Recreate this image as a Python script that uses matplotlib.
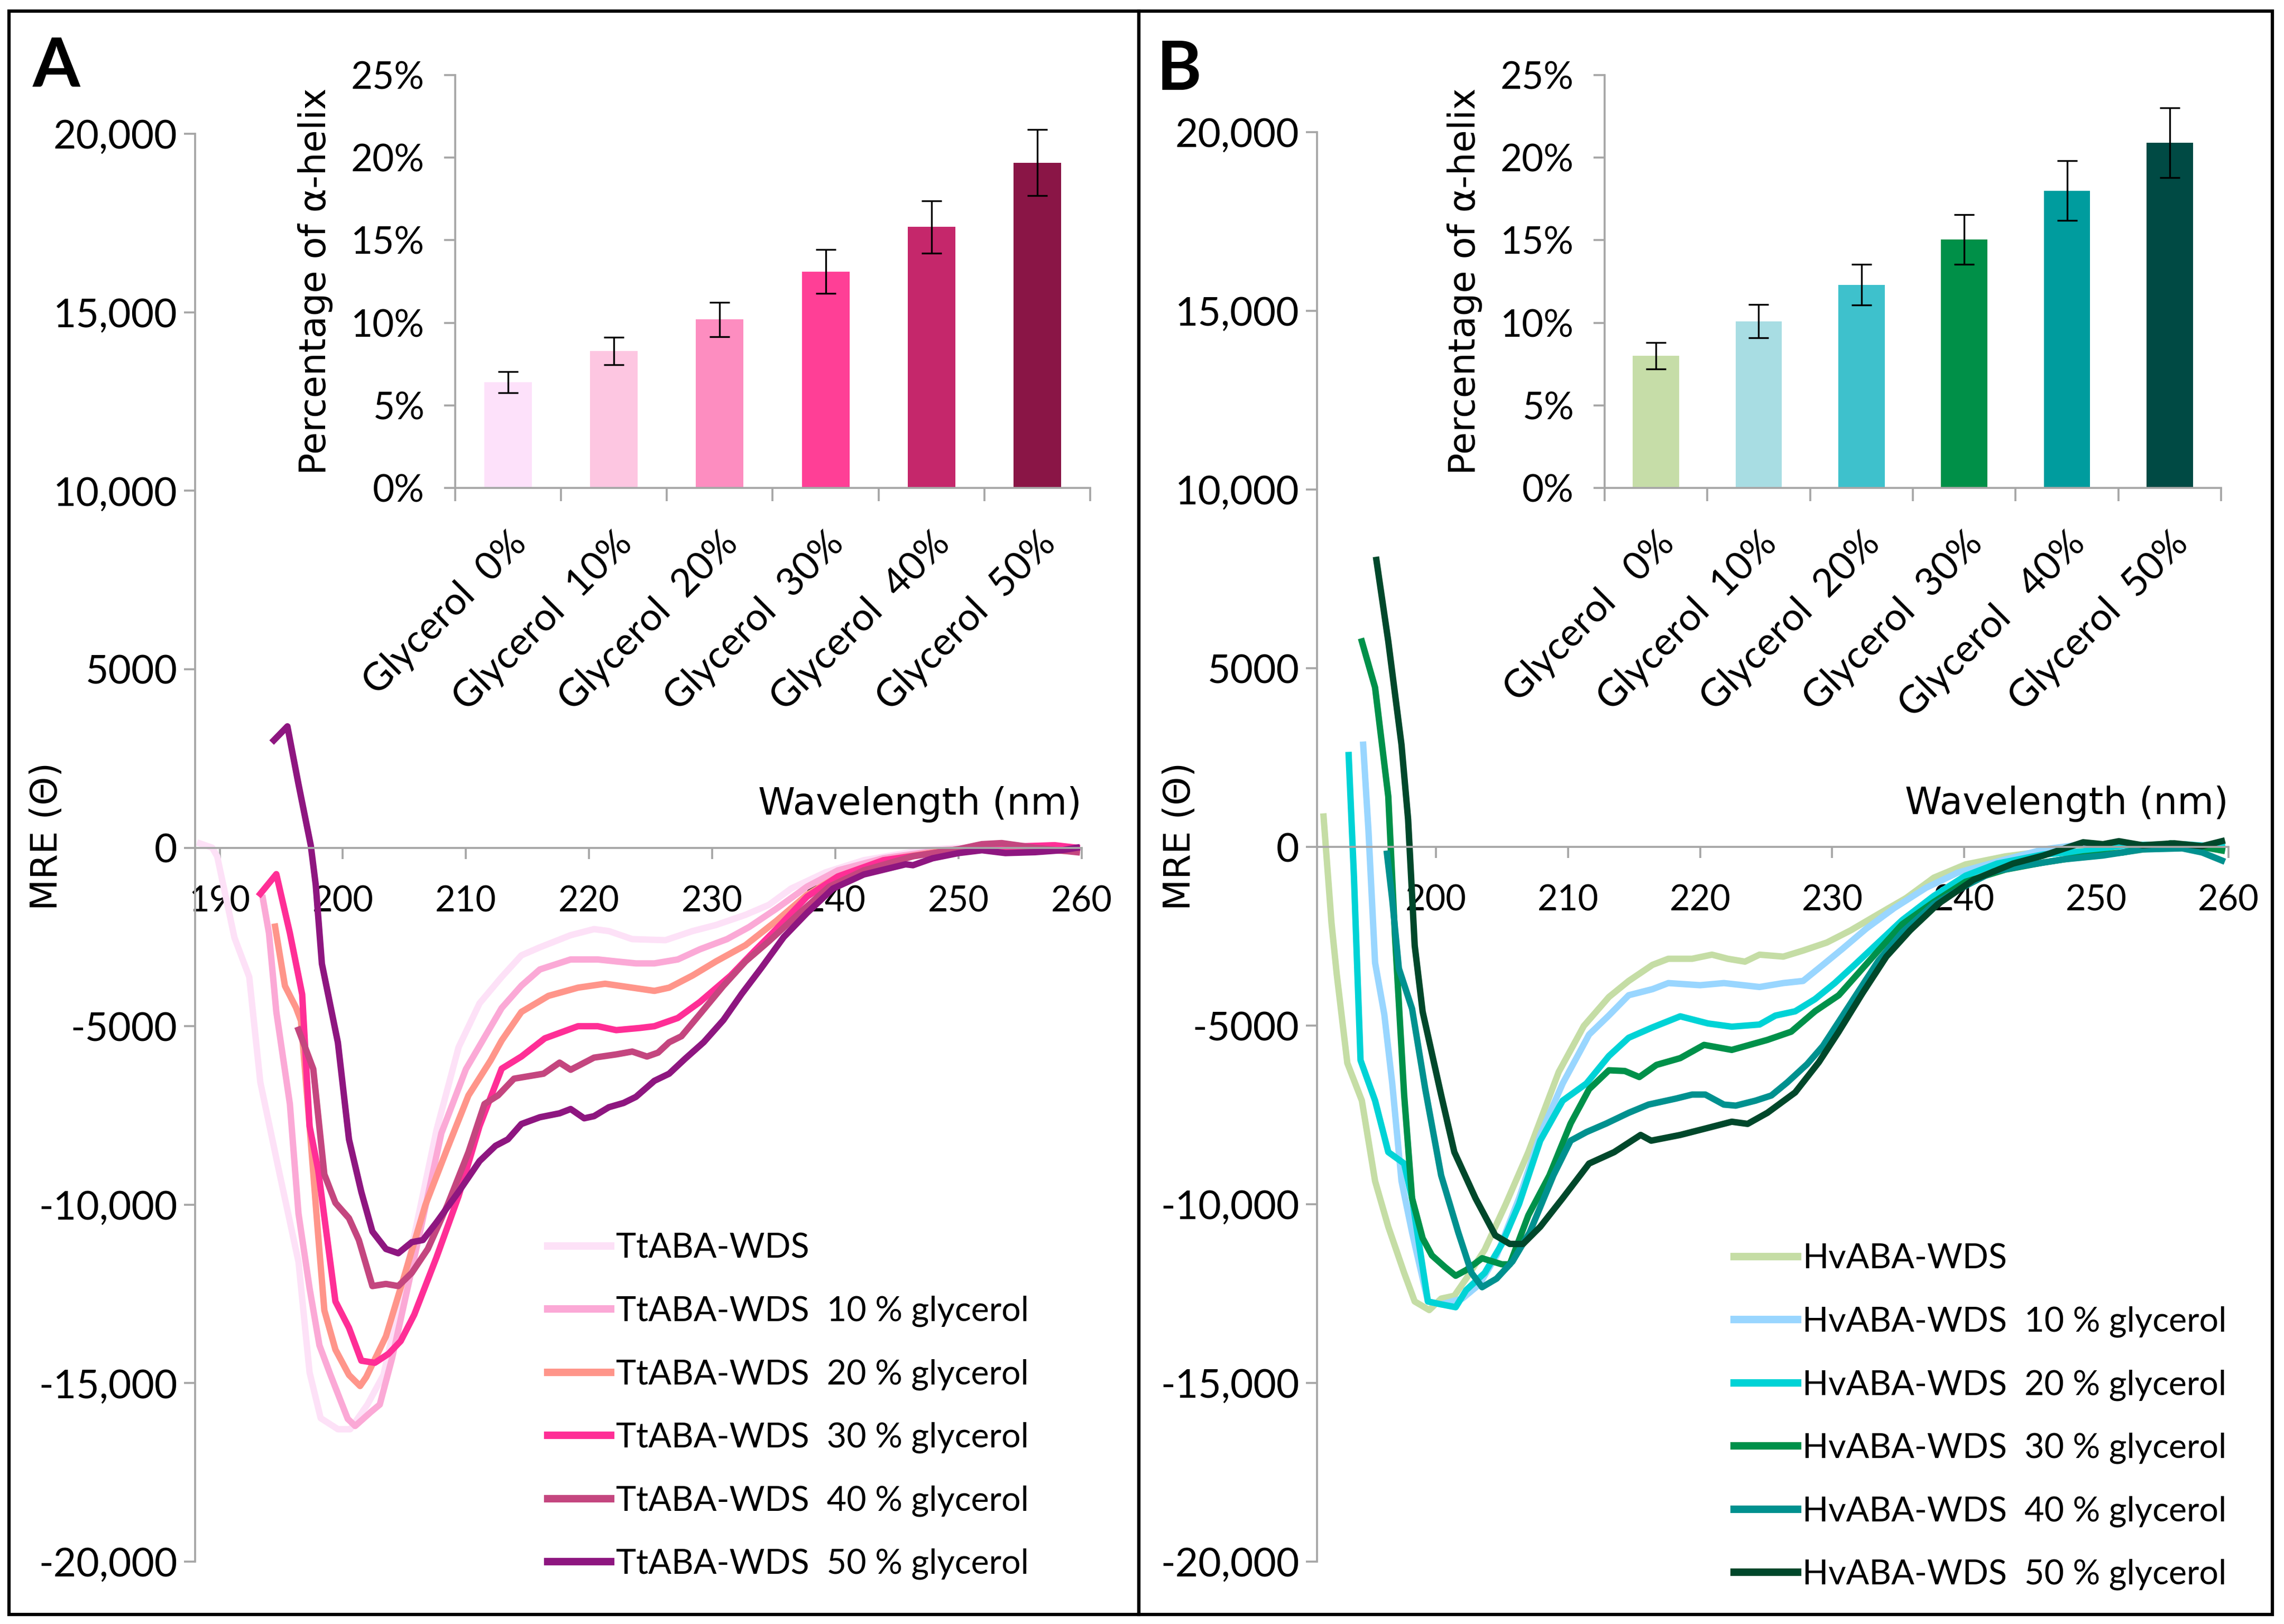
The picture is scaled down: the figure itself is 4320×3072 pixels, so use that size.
import matplotlib
matplotlib.use("Agg")
import matplotlib.pyplot as plt
from matplotlib.patches import Rectangle

# ---- data ----
conditions_A = ["Glycerol  0%", "Glycerol  10%", "Glycerol  20%",
                "Glycerol  30%", "Glycerol  40%", "Glycerol  50%"]
conditions_B = ["Glycerol   0%", "Glycerol  10%", "Glycerol  20%",
                "Glycerol  30%", "Glycerol   40%", "Glycerol  50%"]

helix_A = [6.4, 8.3, 10.2, 13.1, 15.8, 19.7]
helix_A_err = [0.64, 0.83, 1.03, 1.33, 1.58, 2.0]
helix_B = [8.0, 10.1, 12.3, 15.05, 18.0, 20.9]
helix_B_err = [0.8, 1.0, 1.23, 1.5, 1.8, 2.1]

labels_A = ["TtABA-WDS", "TtABA-WDS  10 % glycerol", "TtABA-WDS  20 % glycerol",
            "TtABA-WDS  30 % glycerol", "TtABA-WDS  40 % glycerol", "TtABA-WDS  50 % glycerol"]
labels_B = ["HvABA-WDS", "HvABA-WDS  10 % glycerol", "HvABA-WDS  20 % glycerol",
            "HvABA-WDS  30 % glycerol", "HvABA-WDS  40 % glycerol", "HvABA-WDS  50 % glycerol"]

# panel A spectra
wl_A0 = [188.4, 189.4, 189.8, 191.2, 192.4, 193.3, 194.8, 196.4, 197.3, 198.2, 199.6, 200.6, 202.0, 203.3,
         205.8, 207.6, 209.4, 211.1, 212.9, 214.5, 216.0, 218.5, 220.4, 221.6, 223.5, 226.2, 228.4, 230.3,
         232.7, 234.6, 236.4, 239.2, 242.3, 247.0, 250.0, 259.6]
mre_A0 = [120, 0, -245, -2520, -3620, -6570, -9030, -11600, -14700, -15980, -16290, -16290, -15600, -14770,
          -10870, -7920, -5590, -4360, -3620, -3015, -2790, -2450, -2280, -2335, -2560, -2590, -2335, -2165,
          -1880, -1600, -1145, -690, -350, -70, 0, 0]
wl_A1 = [193.5, 194.0, 194.6, 195.7, 196.4, 197.3, 198.1, 199.0, 200.4, 201.0, 202.3, 203.0, 204.0, 206.2,
         208.0, 210.0, 212.9, 214.5, 216.0, 218.5, 220.7, 222.2, 223.8, 225.3, 227.2, 229.0, 231.2, 233.0,
         235.2, 237.7, 240.2, 243.9, 248.5, 251.6, 259.6]
mre_A1 = [-1410, -2390, -4600, -7180, -10250, -12340, -13940, -14770, -16000, -16200, -15800, -15600, -14300, -10870,
          -8000, -6200, -4490, -3865, -3410, -3130, -3130, -3185, -3240, -3240, -3130, -2845, -2560, -2220,
          -1710, -1090, -635, -295, -70, 0, 0]
wl_A2 = [194.5, 195.3, 196.2, 196.6, 197.3, 198.0, 198.5, 199.4, 200.5, 201.4, 201.9, 203.5, 204.9, 206.7,
         208.5, 210.2, 212.0, 212.9, 214.5, 216.7, 219.1, 221.3, 223.5, 225.3, 226.5, 228.4, 230.3, 232.7,
         235.2, 237.7, 240.2, 243.9, 248.5, 251.6, 259.6]
mre_A2 = [-2210, -3870, -4480, -4850, -7800, -10870, -12960, -14060, -14770, -15080, -14830, -13690, -12100, -10010,
          -8410, -6940, -5960, -5400, -4600, -4150, -3920, -3810, -3920, -4010, -3920, -3580, -3185, -2730,
          -2050, -1315, -805, -350, -100, 0, -100]
wl_A3 = [193.3, 194.6, 195.7, 196.7, 197.3, 198.0, 198.7, 199.4, 200.5, 201.5, 202.6, 203.7, 204.7, 205.8,
         207.6, 209.4, 211.1, 212.9, 214.5, 216.4, 219.1, 220.7, 222.2, 224.1, 225.3, 227.2, 229.0, 231.5,
         233.4, 235.2, 237.7, 240.2, 243.9, 248.5, 251.6, 257.8, 259.6]
mre_A3 = [-1290, -740, -2390, -4110, -7800, -9030, -10870, -12710, -13450, -14370, -14430, -14180, -13820, -13080,
          -11480, -9760, -7800, -6190, -5850, -5340, -5000, -5000, -5110, -5050, -5000, -4770, -4320, -3580,
          -2900, -2280, -1370, -805, -350, -125, 0, 70, 0]
wl_A4 = [196.4, 197.6, 198.5, 199.4, 200.5, 201.3, 202.4, 203.5, 204.5, 205.6, 206.9, 208.5, 210.2, 211.5,
         212.6, 213.9, 216.3, 217.6, 218.5, 220.4, 222.2, 223.5, 224.7, 225.6, 226.5, 227.5, 229.0, 230.9,
         232.7, 234.6, 237.1, 239.5, 242.3, 246.3, 250.0, 251.9, 253.5, 256.2, 259.6]
mre_A4 = [-5100, -6200, -9150, -9950, -10380, -10990, -12280, -12220, -12280, -11910, -11240, -10010, -8530, -7180,
          -6940, -6470, -6330, -6020, -6220, -5880, -5790, -5710, -5850, -5740, -5450, -5280, -4660, -3870,
          -3185, -2620, -1825, -1090, -635, -240, -40, 100, 130, 0, -125]
wl_A5 = [194.4, 195.5, 196.4, 197.4, 197.8, 198.3, 199.6, 200.5, 201.5, 202.4, 203.5, 204.5, 205.6, 206.5,
         207.6, 209.4, 211.1, 212.4, 213.4, 214.5, 216.0, 217.6, 218.5, 219.6, 220.4, 221.6, 222.8, 223.8,
         225.3, 226.5, 227.8, 229.3, 230.9, 232.4, 234.0, 235.8, 237.7, 239.8, 242.3, 245.7, 246.3, 247.9,
         250.0, 251.9, 253.8, 256.2, 258.4, 259.6]
mre_A5 = [3010, 3400, 1780, 60, -1040, -3250, -5460, -8170, -9640, -10750, -11240, -11360, -11050, -10990,
          -10500, -9640, -8780, -8350, -8170, -7740, -7550, -7440, -7320, -7580, -7520, -7270, -7150, -6980,
          -6530, -6330, -5910, -5450, -4830, -4090, -3360, -2505, -1825, -1145, -750, -465, -490, -295,
          -150, -70, -150, -125, -70, 0]

# panel B spectra
wl_B0 = [191.5, 192.1, 192.5, 193.3, 194.4, 195.4, 196.4, 197.6, 198.4, 199.5, 200.4, 201.4, 202.3, 203.7,
         205.3, 207.0, 209.3, 211.2, 213.1, 214.6, 216.4, 217.6, 219.4, 220.9, 222.1, 223.4, 224.5, 226.3,
         227.8, 229.6, 231.4, 233.5, 235.6, 237.7, 240.1, 243.1, 246.0, 249.0, 252.0, 255.0, 259.5]
mre_B0 = [850, -2120, -3570, -6050, -7100, -9350, -10630, -11920, -12720, -12960, -12640, -12560, -12080, -11270,
          -9990, -8540, -6300, -5010, -4200, -3750, -3300, -3130, -3130, -3015, -3130, -3210, -3015, -3070,
          -2900, -2675, -2335, -1880, -1430, -860, -490, -265, -125, 0, -150, 0, 0]
wl_B1 = [194.5, 194.9, 195.4, 196.1, 196.7, 197.4, 198.2, 199.4, 200.4, 202.0, 203.3, 204.6, 206.3, 207.9,
         209.6, 211.6, 213.1, 214.6, 216.4, 217.6, 220.0, 221.8, 224.5, 226.3, 227.8, 229.3, 230.8, 232.6,
         234.7, 237.1, 239.5, 242.5, 246.0, 249.0, 252.0, 256.5, 259.5]
mre_B1 = [2860, 450, -3240, -4690, -6620, -9350, -10790, -12720, -12800, -12640, -12240, -11430, -9830, -8060,
          -6620, -5250, -4715, -4150, -3980, -3810, -3870, -3810, -3920, -3810, -3750, -3300, -2845, -2280,
          -1710, -1145, -720, -410, -70, 75, 0, 0, -70]
wl_B2 = [193.4, 193.8, 194.3, 195.4, 196.4, 197.6, 198.2, 199.4, 200.4, 201.5, 202.3, 203.7, 205.0, 206.3,
         207.9, 209.6, 211.4, 213.1, 214.6, 216.4, 218.5, 220.6, 222.4, 224.5, 225.7, 227.2, 228.7, 230.2,
         231.7, 233.5, 235.3, 237.7, 240.1, 242.5, 246.0, 249.0, 252.0, 256.5, 259.5]
mre_B2 = [2570, -835, -5970, -7100, -8540, -8860, -9830, -12720, -12800, -12880, -12400, -11920, -11110, -9990,
          -8220, -7100, -6620, -5850, -5340, -5050, -4740, -4940, -5030, -4970, -4720, -4600, -4260, -3810,
          -3300, -2675, -2050, -1370, -805, -465, -210, -125, 45, 75, 0]
wl_B3 = [194.4, 195.4, 196.4, 196.9, 197.6, 198.2, 199.0, 199.7, 200.7, 201.5, 202.3, 203.5, 205.0, 205.6,
         207.0, 208.6, 210.2, 211.6, 213.1, 214.3, 215.4, 216.7, 218.5, 220.3, 222.4, 225.1, 226.9, 228.7,
         230.5, 232.0, 233.5, 235.3, 237.7, 240.1, 243.1, 246.0, 249.0, 252.0, 255.6, 258.0, 259.5]
mre_B3 = [5750, 4460, 1410, -2440, -6940, -9830, -10950, -11430, -11760, -12000, -11840, -11510, -11680, -11680,
          -10310, -9190, -7740, -6780, -6250, -6270, -6440, -6100, -5910, -5540, -5680, -5400, -5170, -4600,
          -4150, -3525, -2900, -2165, -1540, -975, -635, -435, -265, -155, 100, 0, -100]
wl_B4 = [196.3, 196.7, 197.2, 198.2, 199.2, 200.4, 201.7, 202.7, 203.5, 204.6, 205.8, 207.1, 208.9, 210.2,
         211.4, 212.9, 214.6, 216.1, 218.2, 219.4, 220.4, 221.8, 222.7, 224.2, 225.4, 226.6, 228.1, 229.3,
         230.5, 232.0, 233.5, 235.3, 237.7, 240.1, 242.2, 244.6, 247.5, 250.5, 253.5, 256.5, 258.0, 259.5]
mre_B4 = [-190, -1480, -3400, -4530, -6780, -9190, -10790, -11920, -12320, -12080, -11600, -10790, -9190, -8220,
          -7980, -7740, -7440, -7210, -7040, -6930, -6930, -7210, -7240, -7100, -6955, -6590, -6080, -5570,
          -4890, -4035, -3185, -2390, -1600, -1090, -690, -520, -350, -240, -70, -40, -155, -380]
wl_B5 = [195.5, 196.4, 197.4, 197.9, 198.4, 199.0, 200.4, 201.4, 203.0, 204.5, 205.6, 206.6, 207.9, 209.6,
         211.6, 213.5, 215.5, 216.3, 218.5, 220.3, 222.4, 223.6, 225.1, 227.2, 229.0, 230.5, 232.3, 234.1,
         235.9, 238.0, 240.7, 243.7, 246.0, 249.0, 250.5, 251.7, 253.5, 255.9, 258.0, 259.5]
mre_B5 = [8030, 5750, 2860, 770, -2760, -4610, -6940, -8540, -9830, -10870, -11110, -11110, -10630, -9830,
          -8860, -8540, -8060, -8220, -8060, -7890, -7690, -7750, -7440, -6870, -6020, -5170, -4090, -3070,
          -2335, -1600, -920, -465, -240, 130, 75, 160, 45, 100, 20, 160]

yticks_main = [-20000, -15000, -10000, -5000, 0, 5000, 10000, 15000, 20000]
ytick_labels_main = ["-20,000", "-15,000", "-10,000", "-5000", "0", "5000", "10,000", "15,000", "20,000"]

line_cols_A = ["#FDE1F7", "#FBA9D6", "#FF958A", "#FF2E96", "#C4467F", "#8E1680"]
line_cols_B = ["#C5DDA5", "#99D6FF", "#00D3D6", "#00914A", "#00918F", "#00482B"]
bar_cols_A = ["#FDE1FA", "#FDC6E1", "#FD8DC0", "#FF3F96", "#C5276B", "#8A1546"]
bar_cols_B = ["#C6DDA8", "#A8DDE3", "#3EC1CC", "#009048", "#009C9E", "#004A44"]

TICKFONT = "Lato"
TITLEFONT = "DejaVu Sans"
GREY = "#A6A6A6"

fig = plt.figure(figsize=(14.4, 10.24), dpi=300)


def spectra_panel(rect, xmin, series, cols, labels, leg_xy):
    ax = fig.add_axes(rect)
    for (wl, mre), c, lab in zip(series, cols, labels):
        ax.plot(wl, mre, color=c, lw=2.9, label=lab, solid_joinstyle="round")
    ax.set_xlim(xmin, 260)
    ax.set_ylim(-20000, 20000)
    ax.set_xticks([t for t in range(190, 261, 10) if t >= xmin])
    ax.set_yticks(yticks_main)
    ax.set_yticklabels(ytick_labels_main)
    ax.spines["top"].set_visible(False)
    ax.spines["right"].set_visible(False)
    ax.spines["bottom"].set_position(("data", 0))
    for s in ("left", "bottom"):
        ax.spines[s].set_color(GREY)
        ax.spines[s].set_linewidth(0.9)
    ax.tick_params(axis="y", direction="out", length=5, width=0.9, color=GREY,
                   labelsize=18, pad=3)
    ax.tick_params(axis="x", direction="out", length=5, width=0.9, color=GREY,
                   labelsize=16, pad=12)
    for t in ax.get_xticklabels() + ax.get_yticklabels():
        t.set_fontfamily(TICKFONT)
    ax.text(260, 700, "Wavelength (nm)", ha="right", va="bottom",
            fontsize=17, family=TITLEFONT)
    ax.patch.set_alpha(0)
    leg = ax.legend(loc="upper left", bbox_to_anchor=leg_xy, bbox_transform=fig.transFigure,
                    frameon=False, borderpad=0, borderaxespad=0, handlelength=1.85,
                    handletextpad=0.15, labelspacing=0.93, prop={"family": TICKFONT, "size": 15.5})
    for h in leg.get_lines():
        h.set_linewidth(3.4)
    return ax


def helix_inset(rect, vals, errs, cols, names):
    ax = fig.add_axes(rect)
    x = list(range(len(names)))
    ax.bar(x, vals, width=0.45, color=cols, yerr=errs, capsize=4.5,
           error_kw={"elinewidth": 0.8, "capthick": 0.8, "ecolor": "black"})
    ax.set_xlim(-0.5, 5.5)
    ax.set_ylim(0, 25)
    ax.set_yticks([0, 5, 10, 15, 20, 25])
    ax.set_yticklabels(["0%", "5%", "10%", "15%", "20%", "25%"])
    ax.set_xticks(x)
    ax.set_xticklabels(names, rotation=45, ha="right", va="top", rotation_mode="anchor")
    ax.set_xticks([i - 0.5 for i in range(7)], minor=True)
    ax.tick_params(axis="x", which="major", length=0, pad=17, labelsize=17.5)
    ax.tick_params(axis="x", which="minor", direction="out", length=6, width=0.9, color=GREY)
    ax.tick_params(axis="y", direction="out", length=5, width=0.9, color=GREY, labelsize=17, pad=9)
    for t in ax.get_xticklabels() + ax.get_yticklabels():
        t.set_fontfamily(TICKFONT)
    ax.spines["top"].set_visible(False)
    ax.spines["right"].set_visible(False)
    for s in ("left", "bottom"):
        ax.spines[s].set_color(GREY)
        ax.spines[s].set_linewidth(0.9)
    ax.set_ylabel("Percentage of α-helix", fontsize=16.5, family=TITLEFONT, labelpad=8)
    ax.patch.set_alpha(0)
    return ax


series_A = [(wl_A0, mre_A0), (wl_A1, mre_A1), (wl_A2, mre_A2),
            (wl_A3, mre_A3), (wl_A4, mre_A4), (wl_A5, mre_A5)]
series_B = [(wl_B0, mre_B0), (wl_B1, mre_B1), (wl_B2, mre_B2),
            (wl_B3, mre_B3), (wl_B4, mre_B4), (wl_B5, mre_B5)]

spectra_panel([0.0854, 0.0384, 0.3882, 0.8792], 188, series_A, line_cols_A, labels_A, (0.2398, 0.2410))
spectra_panel([0.5766, 0.0384, 0.3991, 0.8802], 191, series_B, line_cols_B, labels_B, (0.7593, 0.2345))

helix_inset([0.1993, 0.6995, 0.2780, 0.2543], helix_A, helix_A_err, bar_cols_A, conditions_A)
helix_inset([0.7025, 0.6995, 0.2700, 0.2543], helix_B, helix_B_err, bar_cols_B, conditions_B)

# y axis titles of the main plots
fig.text(0.0206, 0.485, "MRE (Θ)", rotation=90, ha="center", va="center", fontsize=16.5, family=TITLEFONT)
fig.text(0.5165, 0.485, "MRE (Θ)", rotation=90, ha="center", va="center", fontsize=16.5, family=TITLEFONT)

# panel letters and frames
fig.text(0.0144, 0.9775, "A", ha="left", va="top", fontsize=31, fontweight="bold", family=TICKFONT)
fig.text(0.5065, 0.9755, "B", ha="left", va="top", fontsize=31, fontweight="bold", family=TICKFONT)
fig.patches.append(Rectangle((0.0039, 0.0059), 0.4947, 0.9873, transform=fig.transFigure,
                             fill=False, lw=1.5, ec="black"))
fig.patches.append(Rectangle((0.4986, 0.0059), 0.4963, 0.9873, transform=fig.transFigure,
                             fill=False, lw=1.5, ec="black"))

fig.savefig("out.png", dpi=300, facecolor="white")
